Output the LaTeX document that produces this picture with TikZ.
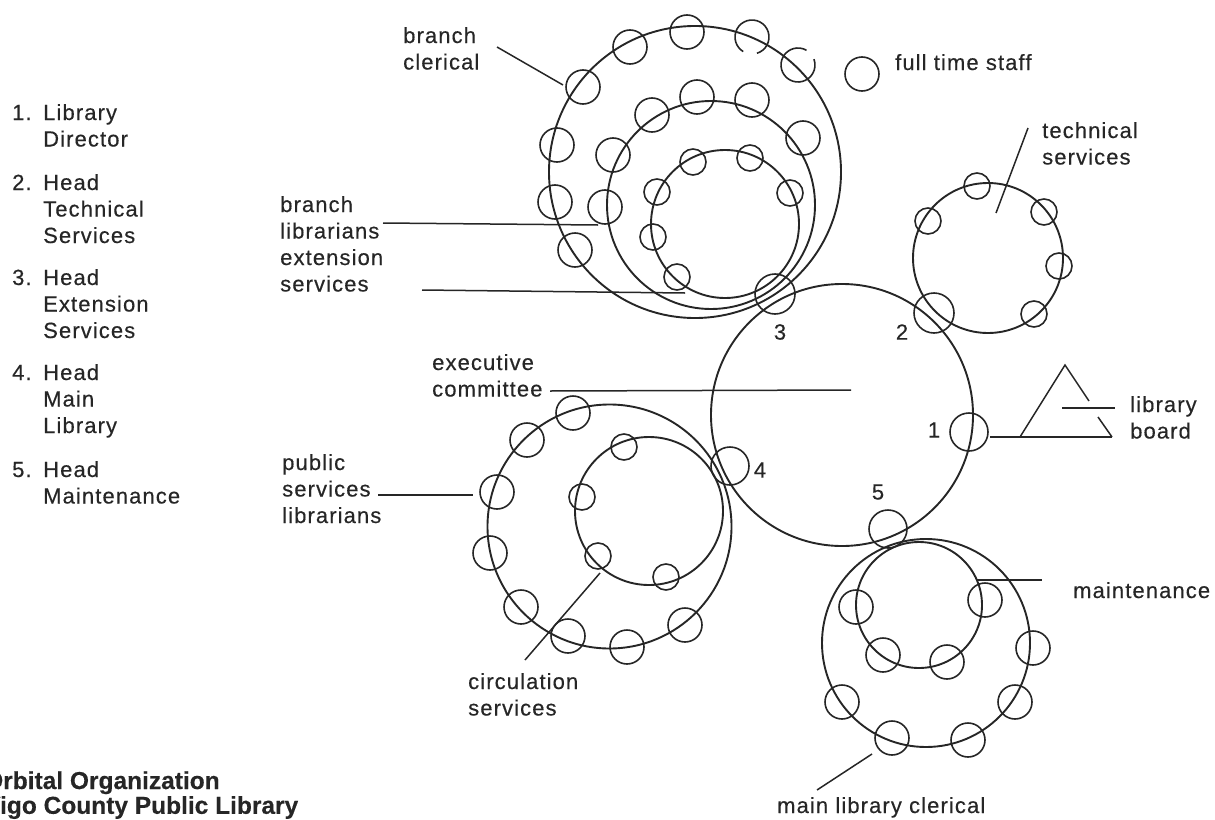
\documentclass[tikz,border=0pt]{standalone}
\usepackage{fontspec}
\setmainfont{Liberation Sans}[LetterSpace=5,FakeBold=0.35]
\newfontfamily\titlefont{Liberation Sans}[FakeBold=0.3]
\definecolor{ink}{RGB}{38,38,38}
\newcommand{\mlines}[1]{\begin{tabular}[t]{@{}l@{}}#1\end{tabular}}
\begin{document}
\begin{tikzpicture}[x=1pt,y=-1pt,
  big/.style={draw=ink,line width=1.9pt},
  orb/.style={draw=ink,line width=1.6pt},
  ptr/.style={draw=ink,line width=1.5pt},
  lbl/.style={font=\fontsize{22}{26.5}\selectfont,text=ink,inner sep=0pt,anchor=base west},
  num/.style={font=\fontsize{22}{26.5}\selectfont,text=ink,inner sep=0pt,anchor=center},
  ttl/.style={font=\titlefont\bfseries\fontsize{24.5}{23.5}\selectfont,text=ink,inner sep=0pt,anchor=base west}]
\useasboundingbox (0,0) rectangle (1215,819);

% ---------- legend ----------
\node[lbl] (n1) at (12,120) {1.};
\node[lbl] (l1) at (43,120) {\mlines{Library\\Director}};
\node[lbl] (n2) at (12,190) {2.};
\node[lbl] (l2) at (43,190) {\mlines{Head\\Technical\\Services}};
\node[lbl] (n3) at (12,285) {3.};
\node[lbl] (l3) at (43,285) {\mlines{Head\\Extension\\Services}};
\node[lbl] (n4) at (12,380) {4.};
\node[lbl] (l4) at (43,380) {\mlines{Head\\Main\\Library}};
\node[lbl] (n5) at (12,477) {5.};
\node[lbl] (l5) at (43,477) {\mlines{Head\\Maintenance}};

% ---------- title ----------
\begin{scope}
\clip (0,0) rectangle (1215,819);
\node[ttl] (title) at (-16,789) {\mlines{Orbital Organization\\Vigo County Public Library}};
\end{scope}

% ---------- executive committee ----------
\draw[big] (842,415) circle[radius=131pt];
\draw[orb] (969,432) circle[radius=19pt];
\draw[orb] (934,313) circle[radius=20pt];
\draw[orb] (775,294) circle[radius=20pt];
\draw[orb] (730,466) circle[radius=19pt];
\draw[orb] (888,529) circle[radius=19pt];
\node[num] (k1) at (934,430) {1};
\node[num] (k2) at (902,332) {2};
\node[num] (k3) at (780,332) {3};
\node[num] (k4) at (760,470) {4};
\node[num] (k5) at (878,492) {5};

% ---------- branch cluster ----------
\draw[big] (695,172) circle[radius=146pt];
\draw[big] (711,205) circle[radius=104pt];
\draw[big] (725,224) circle[radius=74pt];
\foreach \p in {(630,47),(687,32),(803,138),(583,87),(557,145),(555,202),(575,250),
                (652,115),(697,97),(752,100),(613,155),(605,207)}
  \draw[orb] \p circle[radius=17pt];
\draw[orb] (752,37) ++(-73:17pt) arc[start angle=-73,end angle=239,radius=17pt];
\draw[orb] (798,65) ++(60:17pt) arc[start angle=60,end angle=380,radius=17pt];
\foreach \p in {(693,162),(750,158),(790,193),(657,192),(653,237),(677,277)}
  \draw[orb] \p circle[radius=13pt];
\draw[orb] (862,74) circle[radius=17pt];

% ---------- technical services ----------
\draw[big] (988,258) circle[radius=75pt];
\foreach \p in {(977,186),(928,221),(1044,212),(1059,266),(1034,314)}
  \draw[orb] \p circle[radius=13pt];

% ---------- public services cluster ----------
\draw[big] (609.5,526.5) circle[radius=122pt];
\draw[big] (649,511) circle[radius=74pt];
\foreach \p in {(573,413),(527,440),(497,492),(490,553),(521,607),(568,636),(627,647),(685,625)}
  \draw[orb] \p circle[radius=17pt];
\foreach \p in {(624,447),(582,497),(598,556),(666,577)}
  \draw[orb] \p circle[radius=13pt];

% ---------- main library cluster ----------
\draw[big] (926,643) circle[radius=104pt];
\draw[big] (919,605) circle[radius=63pt];
\foreach \p in {(856,607),(842,702),(892,738),(968,740),(1015,702),(1033,648),
                (985,600),(883,655),(947,662)}
  \draw[orb] \p circle[radius=17pt];

% ---------- library board ----------
\coordinate (bL) at (990,437);
\coordinate (bR) at (1112,437);
\coordinate (tA) at (1065,365);
\coordinate (tB) at (1020,437);
\coordinate (tC) at (1089,401);
\coordinate (tD) at (1098,417);
\draw[ptr] (bL) -- (bR);
\draw[ptr] (tB) -- (tA) -- (tC);
\draw[ptr] (tD) -- (bR);
\coordinate (pb1) at (1062,408);
\coordinate (pb2) at (1115,408);
\draw[ptr] (pb1) -- (pb2);
\node[lbl] (board) at (1130,412) {\mlines{library\\board}};

% ---------- labels and pointers ----------
\node[lbl] (bcl) at (403,43) {\mlines{branch\\clerical}};
\coordinate (p1a) at (497,47); \coordinate (p1b) at (563,85);
\draw[ptr] (p1a) -- (p1b);

\node[lbl] (fts) at (895,70) {full time staff};

\node[lbl] (tech) at (1042,138) {\mlines{technical\\services}};
\coordinate (p2a) at (1028,128); \coordinate (p2b) at (996,213);
\draw[ptr] (p2a) -- (p2b);

\node[lbl] (blib) at (280,212) {\mlines{branch\\librarians\\extension\\services}};
\coordinate (p3a) at (383,223); \coordinate (p3b) at (598,225);
\draw[ptr] (p3a) -- (p3b);
\coordinate (p4a) at (422,290); \coordinate (p4b) at (685,293);
\draw[ptr] (p4a) -- (p4b);

\node[lbl] (exec) at (432,370) {\mlines{executive\\committee}};
\coordinate (p5a) at (550,391); \coordinate (p5b) at (851,390);
\draw[ptr] (p5a) -- (p5b);

\node[lbl] (pub) at (282,470) {\mlines{public\\services\\librarians}};
\coordinate (p6a) at (378,495); \coordinate (p6b) at (473,495);
\draw[ptr] (p6a) -- (p6b);

\node[lbl] (circ) at (468,689) {\mlines{circulation\\services}};
\coordinate (p7a) at (600,573); \coordinate (p7b) at (525,660);
\draw[ptr] (p7a) -- (p7b);

\node[lbl] (maint) at (1073,598) {maintenance};
\coordinate (p8a) at (977,580); \coordinate (p8b) at (1042,580);
\draw[ptr] (p8a) -- (p8b);

\node[lbl] (mlc) at (777,813) {main library clerical};
\coordinate (p9a) at (872,754); \coordinate (p9b) at (817,790);
\draw[ptr] (p9a) -- (p9b);
\end{tikzpicture}
\end{document}
